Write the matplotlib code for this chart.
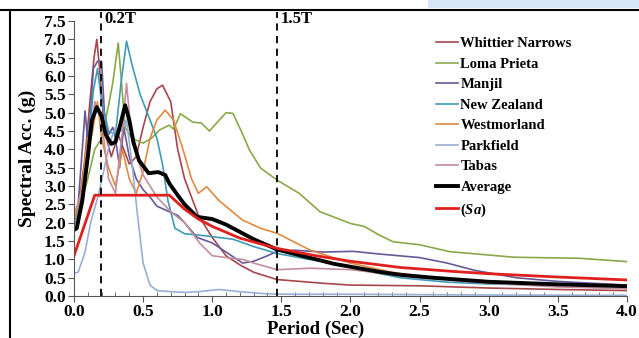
import matplotlib.pyplot as plt
from matplotlib.ticker import MultipleLocator
from matplotlib.lines import Line2D
from matplotlib.patches import Rectangle

# period (s) and spectral acceleration (g)
t_wn = [0, 0.04, 0.08, 0.12, 0.145, 0.165, 0.19, 0.22, 0.27, 0.32, 0.36, 0.4, 0.45, 0.5, 0.55, 0.6, 0.64, 0.7,
        0.75, 0.8, 0.9, 1.0, 1.1, 1.2, 1.3, 1.47, 1.8, 2.0, 2.5, 3.0, 3.5, 4.0]
a_wn = [2.0, 2.6, 3.8, 5.5, 6.5, 7.0, 6.0, 4.5, 3.8, 4.4, 4.0, 3.6, 3.8, 4.6, 5.3, 5.65, 5.75, 5.3,
        4.0, 3.2, 2.2, 1.6, 1.1, 0.85, 0.65, 0.45, 0.35, 0.3, 0.28, 0.22, 0.18, 0.15]

t_lp = [0, 0.05, 0.1, 0.15, 0.2, 0.25, 0.28, 0.32, 0.34, 0.37, 0.42, 0.5, 0.56, 0.62, 0.69, 0.72, 0.77, 0.86,
        0.92, 0.98, 1.04, 1.1, 1.15, 1.21, 1.27, 1.35, 1.47, 1.63, 1.78, 2.0, 2.1, 2.21, 2.31, 2.5, 2.72,
        3.0, 3.18, 3.66, 4.0]
a_lp = [2.1, 2.5, 3.2, 4.0, 4.3, 5.2, 5.8, 6.9, 6.0, 4.6, 4.3, 4.17, 4.3, 4.53, 4.66, 4.55, 4.97, 4.74,
        4.72, 4.5, 4.75, 5.0, 4.98, 4.5, 3.98, 3.49, 3.16, 2.8, 2.3, 1.98, 1.9, 1.66, 1.48, 1.4, 1.21,
        1.12, 1.06, 1.03, 0.94]

t_mj = [0, 0.03, 0.06, 0.08, 0.1, 0.12, 0.14, 0.17, 0.2, 0.22, 0.25, 0.28, 0.3, 0.33, 0.36, 0.4, 0.45, 0.5,
        0.55, 0.6, 0.69, 0.75, 0.8, 0.89, 1.0, 1.1, 1.22, 1.3, 1.4, 1.47, 1.6, 1.8, 2.02, 2.2, 2.5, 2.7,
        2.9, 3.2, 3.5, 4.0]
a_mj = [1.9, 2.5, 4.0, 5.05, 4.2, 5.0, 6.2, 6.4, 6.4, 5.0, 4.4, 4.6, 4.3, 3.5, 4.6, 3.8, 3.2, 2.9,
        2.7, 2.45, 2.3, 2.2, 2.0, 1.6, 1.45, 1.2, 0.9, 0.95, 1.1, 1.22, 1.25, 1.2, 1.22, 1.15, 1.05, 0.9,
        0.7, 0.5, 0.4, 0.3]

t_nz = [0, 0.05, 0.1, 0.14, 0.17, 0.2, 0.25, 0.3, 0.34, 0.38, 0.42, 0.48, 0.54, 0.6, 0.64, 0.68, 0.73,
        0.8, 0.91, 1.0, 1.15, 1.3, 1.47, 1.7, 1.88, 2.1, 2.36, 2.7, 3.0, 3.5, 4.0]
a_nz = [1.9, 2.6, 4.0, 5.6, 6.2, 5.3, 4.5, 4.4, 5.8, 6.95, 6.3, 5.48, 4.9, 4.3, 3.6, 2.6, 1.85,
        1.7, 1.66, 1.62, 1.55, 1.35, 1.16, 1.0, 0.9, 0.7, 0.5, 0.38, 0.33, 0.3, 0.28]

t_wm = [0, 0.05, 0.1, 0.13, 0.17, 0.2, 0.25, 0.3, 0.35, 0.4, 0.45, 0.5, 0.55, 0.6, 0.66, 0.72, 0.79, 0.85,
        0.9, 0.96, 1.05, 1.22, 1.35, 1.47, 1.71, 2.0, 2.3, 2.6, 3.0, 3.5, 4.0]
a_wm = [2.0, 2.8, 4.3, 4.4, 5.3, 4.3, 3.5, 3.0, 4.0, 3.2, 2.8, 3.4, 4.3, 4.8, 5.07, 4.8, 3.98, 3.2,
        2.8, 2.98, 2.6, 2.07, 1.85, 1.71, 1.25, 0.9, 0.65, 0.5, 0.4, 0.33, 0.3]

t_pk = [0, 0.03, 0.08, 0.12, 0.18, 0.22, 0.26, 0.3, 0.34, 0.38, 0.42, 0.46, 0.5, 0.55, 0.6, 0.7, 0.8,
        0.9, 1.05, 1.2, 1.4, 1.6, 2.0, 3.0, 4.0]
a_pk = [0.62, 0.65, 1.2, 2.0, 2.8, 3.5, 4.2, 4.6, 4.5, 4.8, 3.6, 2.2, 0.9, 0.3, 0.15, 0.12, 0.1,
        0.12, 0.18, 0.12, 0.06, 0.05, 0.05, 0.03, 0.02]

t_tb = [0, 0.05, 0.1, 0.15, 0.2, 0.25, 0.3, 0.35, 0.38, 0.42, 0.5, 0.6, 0.7, 0.8, 0.91, 1.0, 1.1, 1.22,
        1.3, 1.47, 1.71, 2.0, 2.5, 3.0, 3.5, 4.0]
a_tb = [2.2, 2.8, 3.6, 5.3, 4.8, 3.2, 2.8, 4.5, 5.8, 4.2, 3.3, 2.7, 2.3, 2.0, 1.44, 1.1, 1.05, 1.0,
        0.9, 0.72, 0.76, 0.72, 0.5, 0.35, 0.25, 0.2]

t_avg = [0, 0.02, 0.06, 0.1, 0.13, 0.165, 0.2, 0.23, 0.27, 0.3, 0.33, 0.37, 0.4, 0.43, 0.47, 0.54, 0.61,
         0.66, 0.69, 0.75, 0.8, 0.89, 1.0, 1.1, 1.2, 1.3, 1.47, 1.7, 1.88, 2.21, 2.36, 2.6, 3.0, 3.5, 4.0]
a_avg = [1.8, 1.85, 2.6, 3.8, 4.8, 5.15, 4.9, 4.4, 4.15, 4.2, 4.6, 5.2, 4.8, 4.2, 3.7, 3.35, 3.38,
         3.3, 3.07, 2.75, 2.5, 2.16, 2.1, 1.95, 1.75, 1.55, 1.27, 1.05, 0.88, 0.66, 0.58, 0.5, 0.39, 0.32, 0.27]

t_sa = [0, 0.15, 0.69, 0.8, 0.9, 1.0, 1.2, 1.47, 1.75, 2.0, 2.36, 2.75, 3.0, 3.5, 4.0]
a_sa = [1.1, 2.75, 2.75, 2.37, 2.1, 1.9, 1.58, 1.3, 1.1, 0.95, 0.78, 0.67, 0.61, 0.52, 0.44]

records = [
    ("Whittier Narrows", t_wn, a_wn, "#a8464c"),
    ("Loma Prieta", t_lp, a_lp, "#8aa84a"),
    ("Manjil", t_mj, a_mj, "#66599a"),
    ("New Zealand", t_nz, a_nz, "#3f9bb5"),
    ("Westmorland", t_wm, a_wm, "#e08a40"),
    ("Parkfield", t_pk, a_pk, "#97aed6"),
    ("Tabas", t_tb, a_tb, "#c58e9c"),
]

serif = "Liberation Serif"
plt.rcParams['font.family'] = serif
plt.rcParams['font.weight'] = 'bold'
plt.rcParams['mathtext.fontset'] = 'custom'
plt.rcParams['mathtext.it'] = 'Liberation Serif:italic:bold'
plt.rcParams['mathtext.rm'] = 'Liberation Serif:bold'

fig = plt.figure(figsize=(6.39, 3.38), dpi=100)
ax = fig.add_axes([0.1158, 0.124, 0.8652, 0.814])

handles = []
for name, t, a, c in records:
    ax.plot(t, a, color=c, lw=1.2)
    handles.append(Line2D([], [], color=c, lw=1.2, label=name))
ax.plot(t_avg, a_avg, color="black", lw=2.8)
ax.plot(t_sa, a_sa, color="#e0201e", lw=2.0)
handles.append(Line2D([], [], color="black", lw=2.8, label="Average"))
handles.append(Line2D([], [], color="#e0201e", lw=2.0, label="($\\mathit{Sa}$)"))

# 0.2T and 1.5T markers
for xv, lab in [(0.196, "0.2T"), (1.47, "1.5T")]:
    ax.plot([xv, xv], [0, 7.75], ls=(0, (4, 3)), color="black", lw=1.3, clip_on=False)
    ax.text(xv + 0.025, 7.55, lab, fontsize=12, fontweight='bold', va='center', ha='left')

ax.set_xlim(0, 4.0)
ax.set_ylim(0, 7.5)
ax.xaxis.set_major_locator(MultipleLocator(0.5))
ax.xaxis.set_minor_locator(MultipleLocator(0.1))
ax.yaxis.set_major_locator(MultipleLocator(0.5))
ax.set_xticklabels([f"{v:.1f}" for v in ax.get_xticks()])
ax.set_yticklabels([f"{v:.1f}" for v in ax.get_yticks()])
ax.tick_params(axis='both', which='major', labelsize=12.5, direction='out', length=4, color='#555555', pad=2)
ax.tick_params(axis='x', which='minor', direction='in', length=3, color='#555555')
for lbl in ax.get_xticklabels() + ax.get_yticklabels():
    lbl.set_fontweight('bold')
ax.spines['top'].set_visible(False)
ax.spines['right'].set_visible(False)
ax.spines['left'].set_color('#555555')
ax.spines['bottom'].set_color('#555555')
ax.set_xlabel("Period (Sec)", fontsize=13.5, fontweight='bold')
ax.set_ylabel("Spectral Acc. (g)", fontsize=14, fontweight='bold')
ax.xaxis.set_label_coords(0.4376, -0.088)
ax.yaxis.set_label_coords(-0.068, 0.5)

ax.legend(handles=handles, loc='upper left', bbox_to_anchor=(0.645, 0.962), frameon=False,
          prop={'family': serif, 'weight': 'bold', 'size': 10.5}, handlelength=1.45, handletextpad=0.2,
          labelspacing=0.5, borderaxespad=0)

# outer frame of the figure image
fig.add_artist(Line2D([0.0, 1.0], [0.971, 0.971], color='black', lw=1.5, transform=fig.transFigure))
fig.add_artist(Line2D([0.0155, 0.0155], [0.0, 0.971], color='black', lw=1.5, transform=fig.transFigure))
fig.add_artist(Rectangle((0.67, 0.977), 0.33, 0.023, color='#d6e6f6', transform=fig.transFigure, lw=0))

fig.savefig("out.png", dpi=100)
